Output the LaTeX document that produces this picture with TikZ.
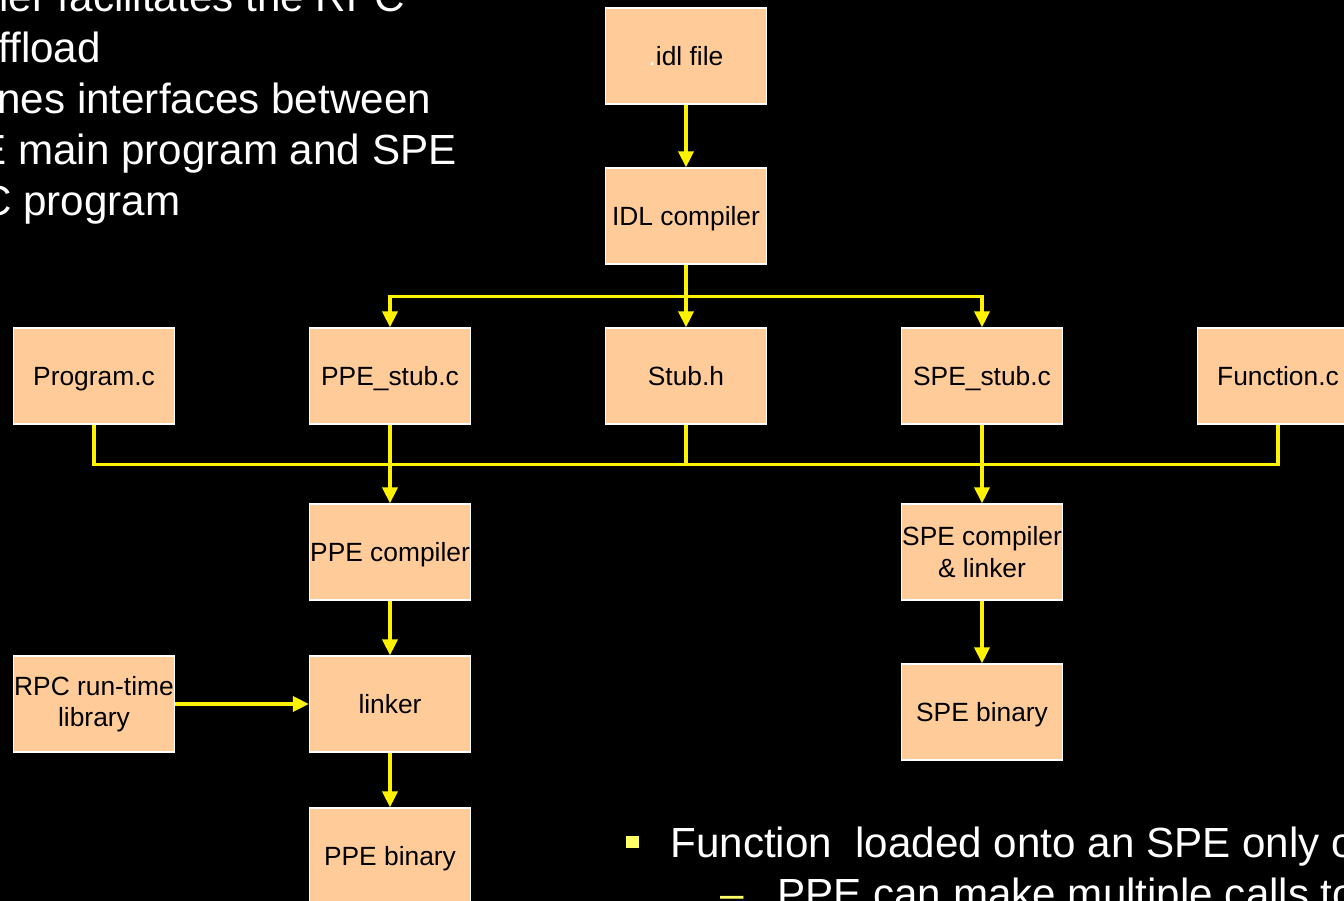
\documentclass[tikz,border=0pt]{standalone}
\usepackage{fontspec}
\setmainfont{Liberation Sans}
\usetikzlibrary{arrows.meta, calc, positioning}
\definecolor{boxfill}{HTML}{FFCC99}
\definecolor{bulletyellow}{HTML}{FFFF66}

\begin{document}
\begin{tikzpicture}[
    x=0.02cm, y=-0.02cm,
    file/.style={draw=white, line width=0.7pt, fill=boxfill, text=black,
      minimum width=3.22cm, minimum height=1.92cm, inner sep=0pt,
      align=center, font=\fontsize{15}{18}\selectfont},
    oneline/.style={text height=10.9pt, text depth=0pt},
    link/.style={draw=yellow, line width=1.9pt},
    flow/.style={link, -{Triangle[width=0.3cm,length=0.32cm]}},
    slide/.style={text=white, inner sep=0pt, anchor=base west,
      font=\fontsize{24}{28}\selectfont}
  ]
  \useasboundingbox (0,0) rectangle (1344,901);
  \fill[black] (0,0) rectangle (1344,901);
  \clip (0,0) rectangle (1344,901);

  \node[slide] (t1) at (-1,12) {ler facilitates the RPC};
  \node[slide] (t2) at (-2,63) {ffload};
  \node[slide] (t3) at (-3,114) {nes interfaces between};
  \node[slide] (t4) at (-22,165) {E main program and SPE};
  \node[slide] (t5) at (-19,216) {C program};

  \node[file, oneline] (idl)     at (686,56)  {{\color{white}.}idl file};
  \node[file, oneline] (idlc)    at (686,216) {IDL compiler};
  \node[file, oneline] (progc)   at (94,376)  {Program.c};
  \node[file, oneline] (ppestub) at (390,376) {PPE\_stub.c};
  \node[file, oneline] (stubh)   at (686,376) {Stub.h};
  \node[file, oneline] (spestub) at (982,376) {SPE\_stub.c};
  \node[file, oneline] (funcc)   at (1278,376) {Function.c};
  \node[file, oneline] (ppec)    at (390,552) {PPE compiler};
  \node[file] (spec)             at (982,552) {SPE compiler\\\& linker};
  \node[file] (rpclib)           at (94,704)  {RPC run-time\\library};
  \node[file, oneline] (linker)  at (390,704) {linker};
  \node[file, oneline] (spebin)  at (982,712) {SPE binary};
  \node[file, oneline] (ppebin)  at (390,856) {PPE binary};

  \draw[flow] (idl) -- (idlc);
  \draw[link] (idlc.south) -- ++(0,32) coordinate (split);
  \draw[flow] (split) -| (ppestub);
  \draw[flow] (split) -- (stubh);
  \draw[flow] (split) -| (spestub);

  \draw[link] (progc.south) -- ++(0,40) coordinate (bus) -| (funcc.south);
  \draw[link] (stubh.south) -- (stubh.south |- bus);
  \draw[flow] (ppestub) -- (ppec);
  \draw[flow] (spestub) -- (spec);

  \draw[flow] (ppec) -- (linker);
  \draw[flow] (rpclib) -- (linker);
  \draw[flow] (linker) -- (ppebin);
  \draw[flow] (spec) -- (spebin);

  \node[fill=bulletyellow, inner sep=0pt, minimum width=13*0.02cm,
    minimum height=12*0.02cm] (dot) at (632,842) {};
  \node[slide] (b1) at (670,857) {Function\ \ loaded onto an SPE only o};
  \node[slide, text=bulletyellow] (dash) at (720,908) {--};
  \node[slide] (b2) at (777,908) {PPE can make multiple calls to};
\end{tikzpicture}
\end{document}
